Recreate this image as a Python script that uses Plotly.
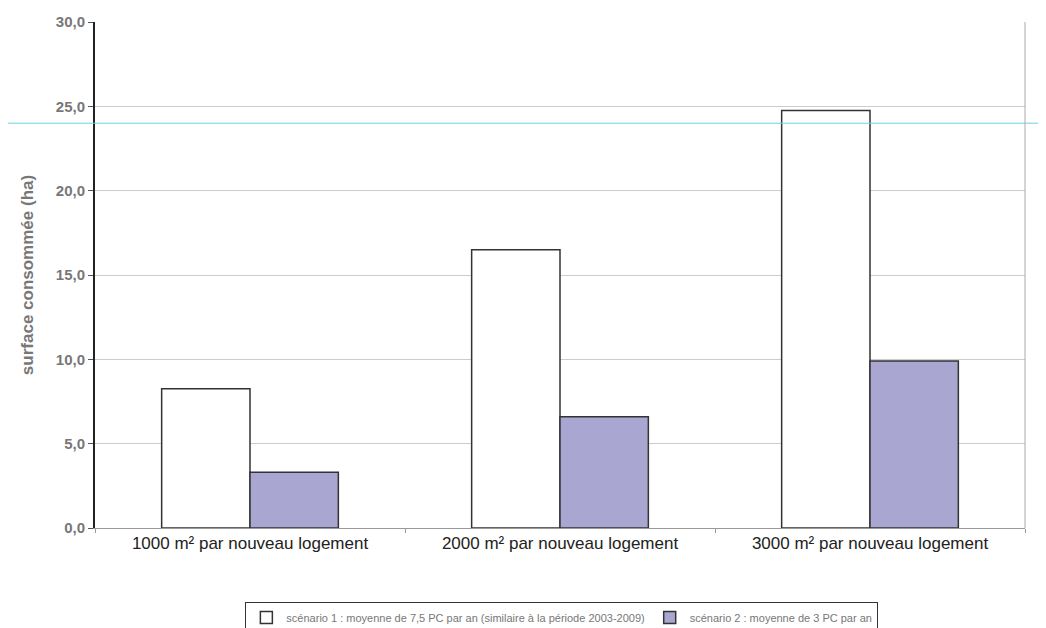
import plotly.graph_objects as go

categories = ["1000 m² par nouveau logement", "2000 m² par nouveau logement", "3000 m² par nouveau logement"]
scenario1 = [8.25, 16.5, 24.75]
scenario2 = [3.3, 6.6, 9.9]
name1 = "scénario 1 : moyenne de 7,5 PC par an (similaire à la période 2003-2009)"
name2 = "scénario 2 : moyenne de 3 PC par an"
scan_line_value = 24.0

fig = go.Figure()
fig.add_trace(go.Bar(x=categories, y=scenario1, name=name1,
                     marker=dict(color="white", line=dict(color="#333333", width=1.5))))
fig.add_trace(go.Bar(x=categories, y=scenario2, name=name2,
                     marker=dict(color="#a9a7d2", line=dict(color="#333333", width=1.5))))

fig.add_shape(type="line", xref="paper", yref="y", x0=-0.2, x1=1.1,
              y0=scan_line_value, y1=scan_line_value,
              line=dict(color="#6fd3dc", width=1))

fig.update_layout(
    width=1046, height=628,
    margin=dict(l=87, r=29, t=14, b=108),
    paper_bgcolor="white", plot_bgcolor="white",
    separators=", ",
    barmode="group", bargap=0.43, bargroupgap=0,
    font=dict(family="Arial, Liberation Sans, sans-serif"),
    showlegend=True,
    legend=dict(orientation="h", x=0.502, xanchor="center",
                yref="container", y=0.054, yanchor="top",
                bordercolor="#333333", borderwidth=1, bgcolor="white",
                font=dict(size=11, color="#777777"), itemwidth=30,
                tracegroupgap=0),
    xaxis=dict(showgrid=False, showline=True, linecolor="#999999", linewidth=1,
               ticks="outside", tickcolor="#999999", ticklen=4,
               tickson="boundaries", automargin=False,
               tickfont=dict(size=17, color="#222222"), mirror=False),
    yaxis=dict(range=[0, 30], dtick=5, tickformat=".1f", automargin=False,
               showgrid=True, gridcolor="#cccccc", gridwidth=1,
               showline=True, linecolor="#222222", linewidth=2,
               ticks="outside", tickcolor="#555555", ticklen=5,
               tickfont=dict(size=15, color="#777777", weight="bold"),
               title=dict(text="<b>surface consommée (ha)</b>",
                          font=dict(size=17, color="#777777"), standoff=18)),
)
fig.add_shape(type="line", xref="paper", yref="paper", x0=1, x1=1, y0=0, y1=1,
              line=dict(color="#aaaaaa", width=1))

fig.write_html("out.html")
